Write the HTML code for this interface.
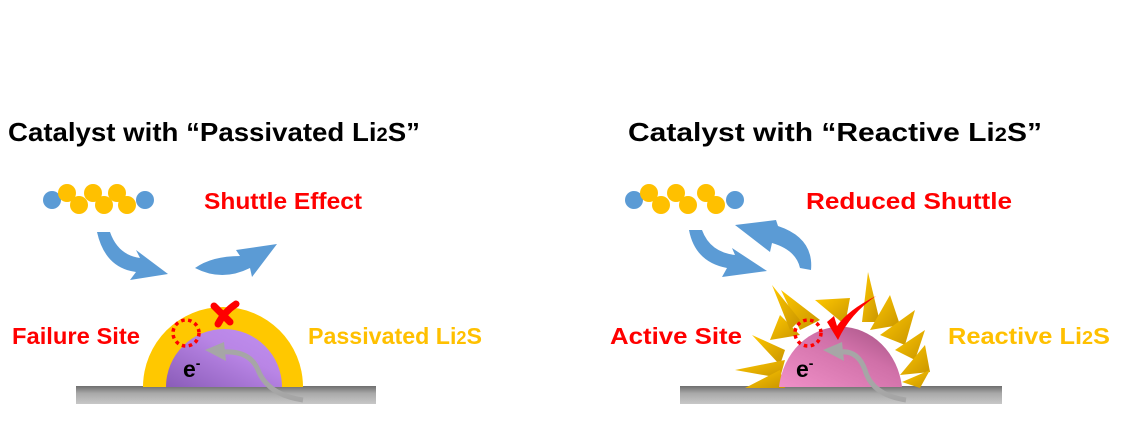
<!DOCTYPE html>
<html><head><meta charset="utf-8"><style>
html,body{margin:0;padding:0;background:#fff;}
svg{display:block;font-family:"Liberation Sans",Arial,sans-serif;font-weight:bold;}
</style></head><body>
<svg width="1126" height="433" viewBox="0 0 1126 433" xmlns="http://www.w3.org/2000/svg">
<defs>
<linearGradient id="sub" x1="0" y1="0" x2="0" y2="1"><stop offset="0" stop-color="#6e6e6e"/><stop offset="0.4" stop-color="#a8a8a8"/><stop offset="1" stop-color="#c8c8c8"/></linearGradient>
<linearGradient id="pur" x1="0" y1="1" x2="1" y2="0"><stop offset="0" stop-color="#8a5cb8"/><stop offset="0.6" stop-color="#b985e6"/><stop offset="1" stop-color="#c090f0"/></linearGradient>
<linearGradient id="pink" x1="0" y1="1" x2="1" y2="0"><stop offset="0" stop-color="#f090c8"/><stop offset="0.6" stop-color="#d070a8"/><stop offset="1" stop-color="#a05080"/></linearGradient>
<linearGradient id="spk" x1="0" y1="0" x2="1" y2="1"><stop offset="0" stop-color="#ffc800"/><stop offset="1" stop-color="#c89400"/></linearGradient>
</defs>

<!-- LEFT -->
<text x="8" y="141" font-size="26" fill="#000" textLength="412" lengthAdjust="spacingAndGlyphs">Catalyst with “Passivated Li<tspan font-size="19">2</tspan>S”</text>
<g>
<circle cx="52" cy="200" r="9" fill="#5b9bd5"/>
<circle cx="67" cy="193" r="9" fill="#ffc000"/><circle cx="79" cy="205" r="9" fill="#ffc000"/>
<circle cx="93" cy="193" r="9" fill="#ffc000"/><circle cx="104" cy="205" r="9" fill="#ffc000"/>
<circle cx="117" cy="193" r="9" fill="#ffc000"/><circle cx="127" cy="205" r="9" fill="#ffc000"/>
<circle cx="145" cy="200" r="9" fill="#5b9bd5"/>
</g>
<text x="204" y="209" font-size="23" fill="#ff0000" textLength="158" lengthAdjust="spacingAndGlyphs">Shuttle Effect</text>
<path d="M97,232 L110,232 Q118,255 140,258 L136,250 L168,274 L130,280 L136,272 Q105,268 97,232 Z" fill="#5b9bd5"/>
<path d="M195,268 Q212,256 240,256 L236,250 L277,244 L252,277 L250,268 Q222,282 195,268 Z" fill="#5b9bd5"/>

<rect x="76" y="386" width="300" height="18" fill="url(#sub)"/>
<path d="M143,387 A80,80 0 0 1 303,387 Z" fill="#ffc800"/>
<path d="M166,387 A58,58 0 0 1 282,387 Z" fill="url(#pur)"/>
<circle cx="186" cy="333" r="13" fill="none" stroke="#ff0000" stroke-width="3.5" stroke-dasharray="3.5 3.5"/>
<path d="M214,306 L230,322 M236,304 Q224,312 218,324" stroke="#ff0000" stroke-width="7" fill="none" stroke-linecap="round"/>
<text x="183" y="377" font-size="23" fill="#000">e<tspan dy="-9" font-size="14">-</tspan></text>
<path d="M303,400 Q268,395 258,370 Q250,350 222,352" stroke="#a6a6a6" stroke-width="5" fill="none"/>
<path d="M205,350 L224,342 L226,361 Z" fill="#a6a6a6"/>
<text x="12" y="344" font-size="23" fill="#ff0000" textLength="128" lengthAdjust="spacingAndGlyphs">Failure Site</text>
<text x="308" y="344" font-size="23" fill="#ffc000" textLength="174" lengthAdjust="spacingAndGlyphs">Passivated Li<tspan font-size="18">2</tspan>S</text>

<!-- RIGHT -->
<text x="628" y="141" font-size="26" fill="#000" textLength="414" lengthAdjust="spacingAndGlyphs">Catalyst with “Reactive Li<tspan font-size="19">2</tspan>S”</text>
<g>
<circle cx="634" cy="200" r="9" fill="#5b9bd5"/>
<circle cx="649" cy="193" r="9" fill="#ffc000"/><circle cx="661" cy="205" r="9" fill="#ffc000"/>
<circle cx="676" cy="193" r="9" fill="#ffc000"/><circle cx="688" cy="205" r="9" fill="#ffc000"/>
<circle cx="706" cy="193" r="9" fill="#ffc000"/><circle cx="716" cy="205" r="9" fill="#ffc000"/>
<circle cx="735" cy="200" r="9" fill="#5b9bd5"/>
</g>
<text x="806" y="209" font-size="23" fill="#ff0000" textLength="206" lengthAdjust="spacingAndGlyphs">Reduced Shuttle</text>
<path d="M689,230 L702,230 Q710,252 735,255 L732,248 L767,271 L722,277 L727,268 Q695,262 689,230 Z" fill="#5b9bd5"/>
<path d="M811,270 Q814,238 778,226 L776,220 L735,225 L770,252 L772,243 Q796,250 800,268 Z" fill="#5b9bd5"/>

<rect x="680" y="386" width="322" height="18" fill="url(#sub)"/>
<g fill="url(#spk)">
<polygon points="781,290 820,320 800,330"/>
<polygon points="815,300 850,298 845,325"/>
<polygon points="868,272 862,322 880,322"/>
<polygon points="890,295 870,330 900,325"/>
<polygon points="915,310 880,335 905,345"/>
<polygon points="925,330 895,350 915,360"/>
<polygon points="925,345 900,375 930,372"/>
<polygon points="930,370 902,382 920,388"/>
<polygon points="780,315 770,340 800,335"/>
<polygon points="752,335 785,350 780,365"/>
<polygon points="735,370 785,360 780,378"/>
<polygon points="745,388 780,370 785,388"/>
<polygon points="772,285 800,320 790,330"/>
</g>
<path d="M779,387 A62,69 0 0 1 902,387 Z" fill="url(#pink)"/>
<circle cx="808" cy="333" r="13" fill="none" stroke="#ff0000" stroke-width="3.5" stroke-dasharray="3.5 3.5"/>
<path d="M827,322 L838,340 Q850,314 876,296 Q848,310 837,326 L834,316 Z" fill="#ff0000"/>
<text x="796" y="377" font-size="23" fill="#000">e<tspan dy="-9" font-size="14">-</tspan></text>
<path d="M906,400 Q872,395 865,370 Q858,350 840,352" stroke="#a6a6a6" stroke-width="5" fill="none"/>
<path d="M823,350 L842,342 L844,361 Z" fill="#a6a6a6"/>
<text x="610" y="344" font-size="23" fill="#ff0000" textLength="132" lengthAdjust="spacingAndGlyphs">Active Site</text>
<text x="948" y="344" font-size="23" fill="#ffc000" textLength="162" lengthAdjust="spacingAndGlyphs">Reactive Li<tspan font-size="18">2</tspan>S</text>
</svg>
</body></html>
